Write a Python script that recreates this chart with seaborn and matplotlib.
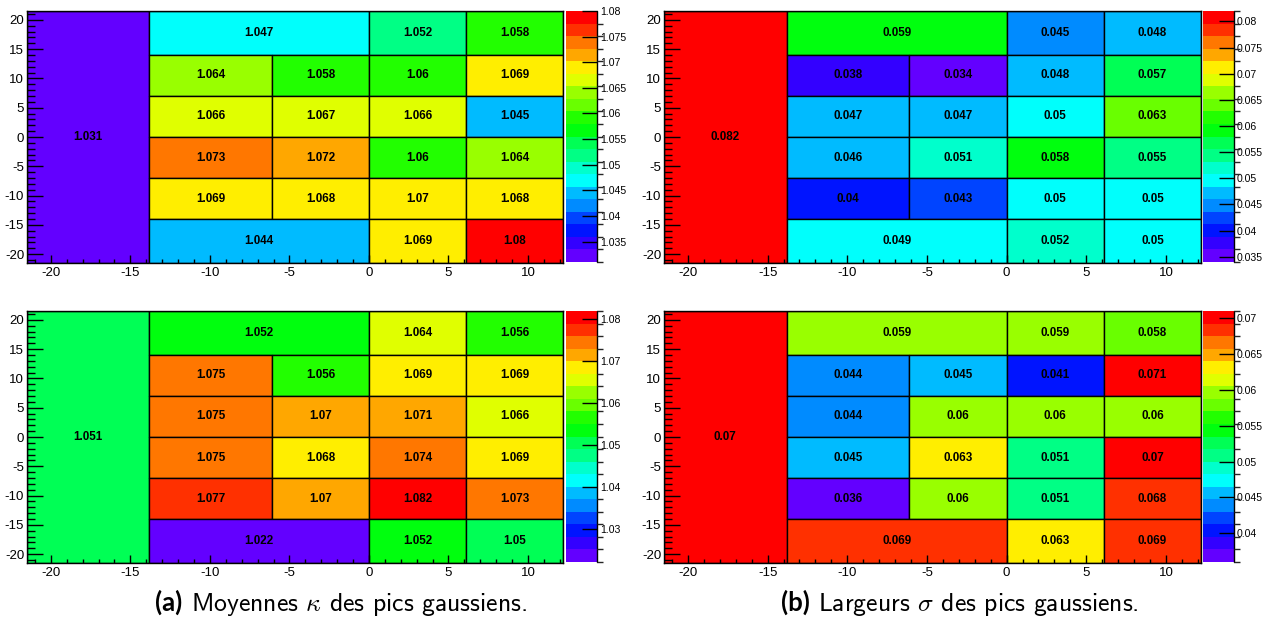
import colorsys
import matplotlib
matplotlib.use("Agg")
import matplotlib.pyplot as plt
import seaborn as sns
import numpy as np
from matplotlib.patches import Rectangle
from matplotlib.collections import PatchCollection
from matplotlib.colors import ListedColormap, BoundaryNorm
from matplotlib.ticker import MultipleLocator, FuncFormatter
from matplotlib.offsetbox import TextArea, HPacker, AnchoredOffsetbox

sns.set_theme(style="ticks")
plt.rcParams['font.family'] = ['Liberation Sans', 'DejaVu Sans']
plt.rcParams['axes.unicode_minus'] = False
plt.rcParams['axes.axisbelow'] = False
plt.rcParams['mathtext.fontset'] = 'cm'

# bin edges of the map
x_edges = [-21.5, -13.8, -6.1, 0, 6.1, 12.2]
y_edges = [-21.5, -14, -7, 0, 7, 14, 21.5]

# each bin given as (ix0, ix1, iy0, iy1) into the edge lists
bins = [(0, 1, 0, 6),
        (1, 3, 5, 6), (3, 4, 5, 6), (4, 5, 5, 6),
        (1, 2, 4, 5), (2, 3, 4, 5), (3, 4, 4, 5), (4, 5, 4, 5),
        (1, 2, 3, 4), (2, 3, 3, 4), (3, 4, 3, 4), (4, 5, 3, 4),
        (1, 2, 2, 3), (2, 3, 2, 3), (3, 4, 2, 3), (4, 5, 2, 3),
        (1, 2, 1, 2), (2, 3, 1, 2), (3, 4, 1, 2), (4, 5, 1, 2),
        (1, 3, 0, 1), (3, 4, 0, 1), (4, 5, 0, 1)]

# Moyennes kappa (haut / bas)
kappa_top = [1.031,
             1.047, 1.052, 1.058,
             1.064, 1.058, 1.06, 1.069,
             1.066, 1.067, 1.066, 1.045,
             1.073, 1.072, 1.06, 1.064,
             1.069, 1.068, 1.07, 1.068,
             1.044, 1.069, 1.08]
kappa_bot = [1.051,
             1.052, 1.064, 1.056,
             1.075, 1.056, 1.069, 1.069,
             1.075, 1.07, 1.071, 1.066,
             1.075, 1.068, 1.074, 1.069,
             1.077, 1.07, 1.082, 1.073,
             1.022, 1.052, 1.05]
# Largeurs sigma (haut / bas)
sigma_top = [0.082,
             0.059, 0.045, 0.048,
             0.038, 0.034, 0.048, 0.057,
             0.047, 0.047, 0.05, 0.063,
             0.046, 0.051, 0.058, 0.055,
             0.04, 0.043, 0.05, 0.05,
             0.049, 0.052, 0.05]
sigma_bot = [0.07,
             0.059, 0.059, 0.058,
             0.044, 0.045, 0.041, 0.071,
             0.044, 0.06, 0.06, 0.06,
             0.045, 0.063, 0.051, 0.07,
             0.036, 0.06, 0.051, 0.068,
             0.069, 0.063, 0.069]

captions = [("(a)", r"Moyennes $\kappa$ des pics gaussiens."),
            ("(b)", r"Largeurs $\sigma$ des pics gaussiens.")]

# ROOT "pretty" palette (50 hues), sampled on 20 contour levels
n_levels = 20
idx = [int((k + 0.99) * 50 / n_levels) for k in range(n_levels)]
root_colors = [colorsys.hls_to_rgb((280 - (i + 1) * 5.6) / 360, 0.5, 1) for i in idx]
cmap = ListedColormap(root_colors)

W, H = 1269, 622
fig = plt.figure(figsize=(W / 100, H / 100), dpi=100)
fig.patch.set_facecolor('white')


def px_axes(x0, y0, x1, y1):
    return fig.add_axes([x0 / W, 1 - y1 / H, (x1 - x0) / W, (y1 - y0) / H])


def draw_panel(ax, cax, values, step):
    vmin, vmax = min(values), max(values)
    norm = BoundaryNorm(np.linspace(vmin, vmax, n_levels + 1), n_levels)
    rects = []
    for (i0, i1, j0, j1), v in zip(bins, values):
        x0, x1 = x_edges[i0], x_edges[i1]
        y0, y1 = y_edges[j0], y_edges[j1]
        rects.append(Rectangle((x0, y0), x1 - x0, y1 - y0))
        ax.text((x0 + x1) / 2, (y0 + y1) / 2, f"{v:g}", ha='center', va='center',
                fontsize=8.4, fontweight='bold', color='black', zorder=5)
    pc = PatchCollection(rects, cmap=cmap, norm=norm, edgecolor='black', linewidth=1)
    pc.set_array(np.array(values))
    ax.add_collection(pc)
    ax.set_xlim(x_edges[0], x_edges[-1])
    ax.set_ylim(y_edges[0], y_edges[-1])
    ax.set_axisbelow(False)
    ax.set_facecolor('white')
    for s in ax.spines.values():
        s.set_color('black')
        s.set_linewidth(1)
        s.set_zorder(6)
    ax.xaxis.set_major_locator(MultipleLocator(5))
    ax.xaxis.set_minor_locator(MultipleLocator(1))
    ax.yaxis.set_major_locator(MultipleLocator(5))
    ax.yaxis.set_minor_locator(MultipleLocator(1))
    ax.tick_params(axis='x', which='major', direction='in', length=6, width=1,
                   labelsize=9.5, pad=3, colors='black')
    ax.tick_params(axis='x', which='minor', direction='in', length=3, width=1, colors='black')
    ax.tick_params(axis='y', which='major', direction='in', length=11.5, width=1,
                   labelsize=9.5, pad=2, colors='black')
    ax.tick_params(axis='y', which='minor', direction='in', length=5.8, width=1, colors='black')

    cb = fig.colorbar(pc, cax=cax, spacing='proportional', ticks=MultipleLocator(step))
    cb.outline.set_visible(False)
    cax.set_axisbelow(False)
    cax.yaxis.set_major_formatter(FuncFormatter(lambda v, p: f"{round(v, 4):g}"))
    cax.tick_params(axis='y', direction='in', length=11, width=1, labelsize=7.6,
                    pad=2, colors='black')
    cax.plot([1, 1], [0, 1], transform=cax.transAxes, color='black', lw=1, clip_on=False)


panels = [((27, 11, 563, 263), (566, 11, 597, 262), kappa_top, 0.005),
          ((27, 311, 563, 563), (566, 311, 597, 562), kappa_bot, 0.01),
          ((664, 11, 1201, 263), (1203, 11, 1234, 262), sigma_top, 0.005),
          ((664, 311, 1201, 563), (1203, 311, 1234, 562), sigma_bot, 0.005)]

for box, cbox, vals, step in panels:
    ax = px_axes(*box)
    cax = px_axes(*cbox)
    draw_panel(ax, cax, vals, step)

for (lab, txt), xc in zip(captions, [341, 960]):
    a = TextArea(lab, textprops=dict(fontsize=18.5, fontweight='bold', family='Lato', color='black'))
    b = TextArea(txt, textprops=dict(fontsize=18.5, family='cmss10', color='black'))
    pack = HPacker(children=[a, b], align='baseline', pad=0, sep=6)
    anch = AnchoredOffsetbox(loc='center', child=pack, bbox_to_anchor=(xc / W, 1 - 604 / H),
                             bbox_transform=fig.transFigure, frameon=False, pad=0, borderpad=0)
    fig.add_artist(anch)

fig.savefig("out.png", dpi=100, facecolor='white')
